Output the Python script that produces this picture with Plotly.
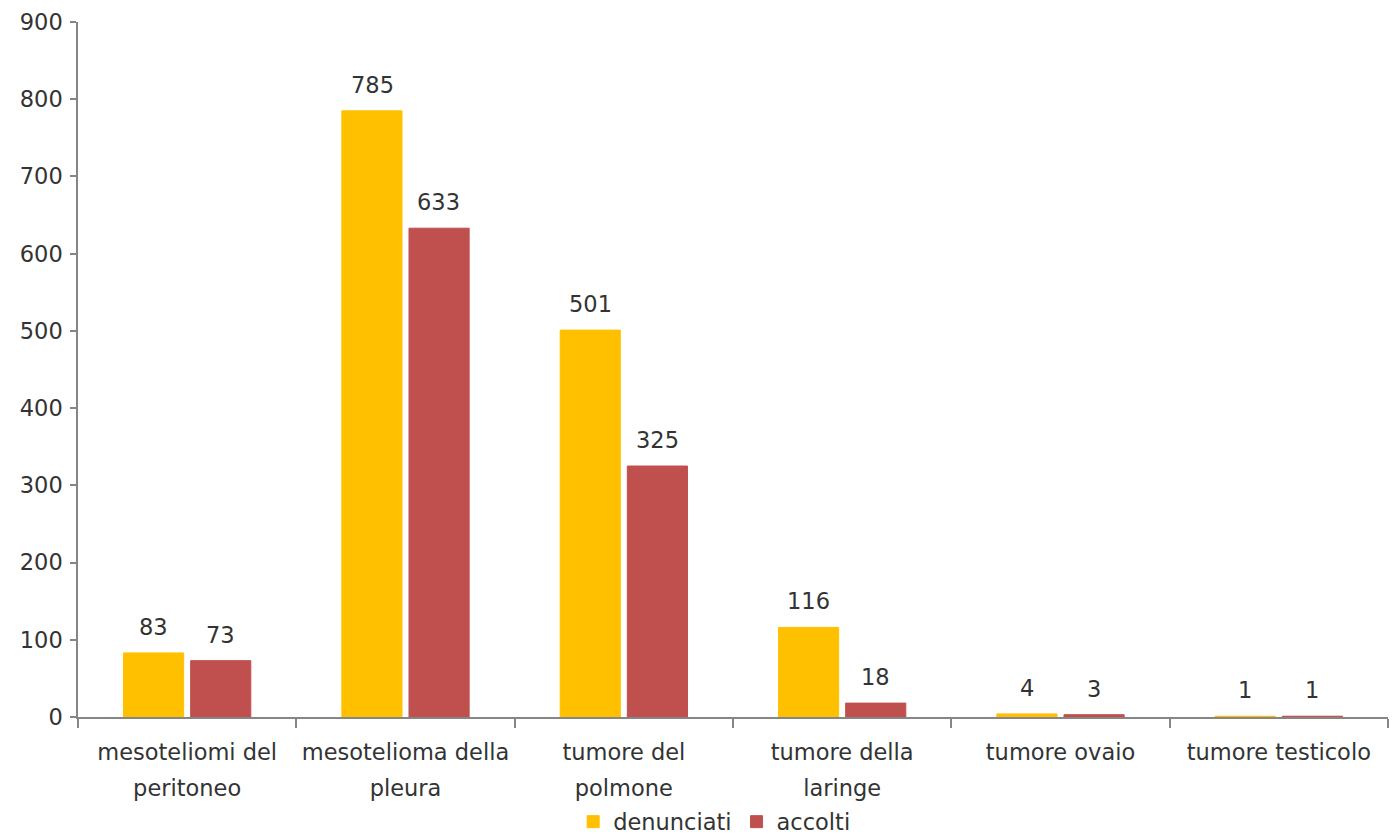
import plotly.graph_objects as go

categories = ["mesoteliomi del|peritoneo", "mesotelioma della|pleura", "tumore del|polmone",
              "tumore della|laringe", "tumore ovaio", "tumore testicolo"]
denunciati = [83, 785, 501, 116, 4, 1]
accolti = [73, 633, 325, 18, 3, 1]
y_ticks = [0, 100, 200, 300, 400, 500, 600, 700, 800, 900]

YELLOW = "#FFC000"
RED = "#C0504D"
FONT = "DejaVu Sans"
TXT = "#333333"
AX = "#868686"
FS = 22.5

first_lines = [c.split("|")[0] for c in categories]
second_lines = [c.split("|")[1] if "|" in c else "" for c in categories]
idx = list(range(len(categories)))

fig = go.Figure()
fig.add_trace(go.Bar(name="denunciati", x=first_lines, y=denunciati,
                     marker=dict(color=YELLOW, line=dict(color=YELLOW, width=1))))
fig.add_trace(go.Bar(name="accolti", x=first_lines, y=accolti,
                     marker=dict(color=RED, line=dict(color=RED, width=1))))
# helper trace so the second-line label axis is rendered
fig.add_trace(go.Scatter(x=idx, y=[0] * len(idx), xaxis="x2", yaxis="y", mode="markers",
                         marker=dict(opacity=0), showlegend=False, hoverinfo="skip"))

annotations = []
off = 0.153
for i, (d, a) in enumerate(zip(denunciati, accolti)):
    for xv, v in ((i - off, d), (i + off, a)):
        annotations.append(dict(x=xv, y=v, xref="x", yref="y", text=str(v), showarrow=False,
                                yanchor="bottom", yshift=11, font=dict(family=FONT, size=FS, color=TXT)))

fig.update_layout(
    width=1391, height=826,
    margin=dict(l=70, r=11, t=14, b=117),
    paper_bgcolor="white", plot_bgcolor="white",
    barmode="group", bargap=0.385, bargroupgap=0.104,
    font=dict(family=FONT, size=FS, color=TXT),
    annotations=annotations,
    showlegend=True,
    legend=dict(orientation="h", x=0.486, xanchor="center", yref="container", y=0.0145, yanchor="middle",
                font=dict(family=FONT, size=FS, color=TXT), traceorder="normal"),
    xaxis=dict(type="category", range=[-0.5, len(categories) - 0.5], automargin=False,
               showline=True, linecolor=AX, linewidth=1.5, ticks="outside", tickson="boundaries",
               ticklen=9, tickcolor=AX, tickwidth=1.5, showgrid=False, zeroline=False,
               tickfont=dict(family=FONT, size=FS, color=TXT), ticklabelstandoff=14),
    xaxis2=dict(range=[-0.5, len(categories) - 0.5], overlaying="x", anchor="y", side="bottom",
                automargin=False, tickmode="array", tickvals=idx, ticktext=second_lines,
                showline=False, ticks="", showgrid=False, zeroline=False,
                tickfont=dict(family=FONT, size=FS, color=TXT), ticklabelstandoff=55),
    yaxis=dict(range=[0, 900], tickvals=y_ticks, showline=True, linecolor=AX, linewidth=1.5,
               automargin=False,
               ticks="outside", ticklen=6, tickcolor=AX, tickwidth=1.5, showgrid=False, zeroline=False,
               tickfont=dict(family=FONT, size=FS, color=TXT), ticklabelstandoff=3),
)

fig.write_html("out.html")
